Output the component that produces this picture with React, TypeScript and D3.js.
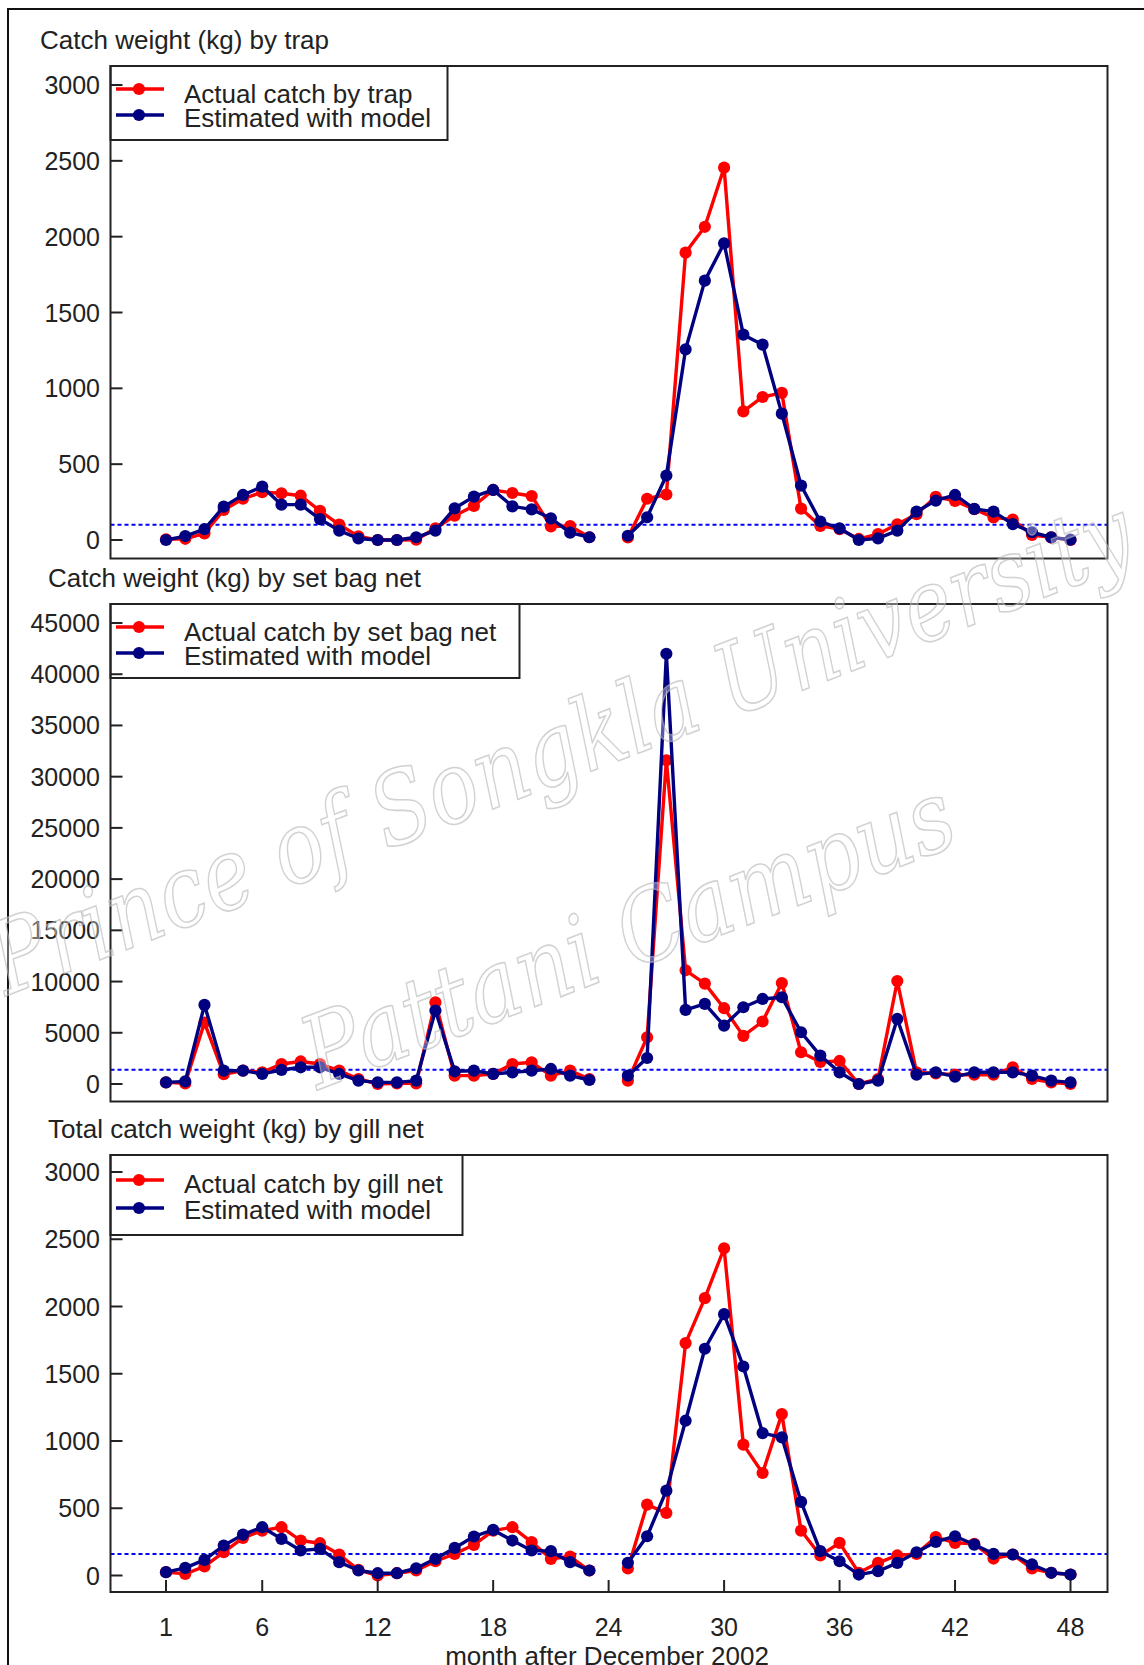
import React from "react";
import * as d3 from "d3";

// Month index 1..48 (months after December 2002); month 24 has no record.
const monthTicks = [1, 6, 12, 18, 24, 30, 36, 42, 48];

const trapActual: (number | null)[] = [
  5, 8, 44, 198, 272, 315, 308, 292, 192, 102, 24, 0, 0, 2, 77, 160, 225, 330, 310, 290, 90, 92, 18, null,
  17, 272, 300, 1895, 2065, 2455, 848, 943, 970, 207, 93, 72, 7, 39, 104, 170, 285, 258, 203, 149, 134, 33, 17, 0,
];
const trapModel: (number | null)[] = [
  0, 26, 72, 220, 297, 352, 233, 233, 138, 62, 10, 0, 0, 18, 62, 209, 286, 330, 222, 202, 143, 48, 18, null,
  28, 150, 425, 1257, 1710, 1956, 1354, 1288, 833, 359, 122, 77, 0, 11, 62, 187, 260, 297, 205, 187, 105, 51, 17, 2,
];

const bagActual: (number | null)[] = [
  160, 65, 6000, 950, 1300, 1140, 1950, 2200, 1950, 1300, 490, 0, 65, 65, 7980, 815, 815, 980, 1950, 2120, 815, 1300, 490, null,
  330, 4560, 31600, 11100, 9800, 7400, 4700, 6100, 9850, 3100, 2150, 2250, 0, 490, 10050, 1140, 1040, 910, 910, 910, 1630, 490, 160, 0,
];
const bagModel: (number | null)[] = [
  160, 260, 7720, 1300, 1300, 980, 1370, 1630, 1630, 980, 330, 160, 160, 330, 7170, 1240, 1300, 980, 1140, 1300, 1470, 815, 390, null,
  815, 2540, 42000, 7230, 7820, 5700, 7490, 8300, 8470, 5050, 2770, 1140, 0, 330, 6350, 910, 1140, 720, 1140, 1140, 1140, 815, 330, 160,
];

const gillActual: (number | null)[] = [
  25, 12, 67, 173, 280, 334, 359, 260, 240, 156, 42, 0, 17, 37, 106, 161, 228, 334, 359, 248, 124, 141, 37, null,
  52, 527, 465, 1728, 2062, 2433, 973, 762, 1200, 334, 149, 243, 20, 94, 149, 161, 285, 243, 235, 126, 156, 52, 20, 7,
];
const gillModel: (number | null)[] = [
  25, 57, 116, 223, 304, 359, 272, 186, 198, 99, 37, 17, 17, 54, 124, 205, 290, 339, 260, 186, 181, 99, 37, null,
  94, 292, 631, 1151, 1686, 1943, 1554, 1059, 1027, 547, 181, 106, 7, 32, 94, 173, 250, 292, 230, 161, 156, 82, 20, 7,
];

// Dotted reference levels
const trapRef = 100;
const bagRef = 1400;
const gillRef = 160;

const modelLabel = "Estimated with model";

type Panel = {
  title: string;
  titleX: number;
  titleY: number;
  top: number;
  bottom: number;
  yMax: number;
  yStep: number;
  yRange: [number, number];
  actual: (number | null)[];
  model: (number | null)[];
  ref: number;
  actualLabel: string;
  legendW: number;
  legendH: number;
  rowY: [number, number];
  textY: [number, number];
  xAxis: boolean;
};

const panels: Panel[] = [
  {
    title: "Catch weight (kg) by trap",
    titleX: 40, titleY: 49, top: 66, bottom: 558.5,
    yMax: 3000, yStep: 500, yRange: [540, 85],
    actual: trapActual, model: trapModel, ref: trapRef,
    actualLabel: "Actual catch by trap",
    legendW: 337, legendH: 74, rowY: [23, 49], textY: [37, 61], xAxis: false,
  },
  {
    title: "Catch weight (kg) by set bag net",
    titleX: 48, titleY: 587, top: 604, bottom: 1101.5,
    yMax: 45000, yStep: 5000, yRange: [1084, 623],
    actual: bagActual, model: bagModel, ref: bagRef,
    actualLabel: "Actual catch by set bag net",
    legendW: 409, legendH: 74, rowY: [23, 49], textY: [37, 61], xAxis: false,
  },
  {
    title: "Total catch weight (kg) by gill net",
    titleX: 48, titleY: 1138, top: 1155, bottom: 1592,
    yMax: 3000, yStep: 500, yRange: [1575.5, 1172],
    actual: gillActual, model: gillModel, ref: gillRef,
    actualLabel: "Actual catch by gill net",
    legendW: 352, legendH: 80, rowY: [25, 53], textY: [38, 64], xAxis: true,
  },
];

const W = 1144;
const H = 1665;
const LEFT = 110.5;
const RIGHT = 1107.5;
const RED = "#ff0000";
const NAVY = "#000080";
const FONT = "'Liberation Sans', Arial, sans-serif";
const DOT_R = 6.1;
const LINE_W = 3.4;

const x = d3.scaleLinear().domain([1, 48]).range([166, 1070.5]);

function Series({ values, y, color }: { values: (number | null)[]; y: d3.ScaleLinear<number, number>; color: string }) {
  const line = d3
    .line<number | null>()
    .defined((d) => d != null)
    .x((_, i) => x(i + 1))
    .y((d) => y(d as number));
  return (
    <g>
      <path d={line(values) || ""} fill="none" stroke={color} strokeWidth={LINE_W} strokeLinejoin="round" />
      {values.map((v, i) =>
        v == null ? null : <circle key={i} cx={x(i + 1)} cy={y(v)} r={DOT_R} fill={color} />
      )}
    </g>
  );
}

function ChartPanel({ p }: { p: Panel }) {
  const y = d3.scaleLinear().domain([0, p.yMax]).range(p.yRange);
  const ticks = d3.range(0, p.yMax + 1, p.yStep);
  return (
    <g>
      <text x={p.titleX} y={p.titleY} fontSize={26} fill="#222" fontFamily={FONT}>
        {p.title}
      </text>

      {/* reference level */}
      <line x1={LEFT} x2={RIGHT} y1={y(p.ref)} y2={y(p.ref)} stroke="#0000ff" strokeWidth={2} strokeDasharray="4 3" />

      <Series values={p.actual} y={y} color={RED} />
      <Series values={p.model} y={y} color={NAVY} />

      {/* y axis ticks and labels */}
      {ticks.map((t) => (
        <g key={t}>
          <line x1={LEFT} x2={LEFT + 12} y1={y(t)} y2={y(t)} stroke="#222" strokeWidth={2} />
          <text x={100} y={y(t)} dy="0.36em" textAnchor="end" fontSize={25} fill="#222" fontFamily={FONT}>
            {t}
          </text>
        </g>
      ))}

      {/* legend */}
      <g>
        <rect x={LEFT} y={p.top} width={p.legendW} height={p.legendH} fill="none" stroke="#222" strokeWidth={2} />
        {[
          { c: RED, label: p.actualLabel },
          { c: NAVY, label: modelLabel },
        ].map((row, k) => (
          <g key={k}>
            <line x1={116} x2={164} y1={p.top + p.rowY[k]} y2={p.top + p.rowY[k]} stroke={row.c} strokeWidth={LINE_W} />
            <circle cx={139} cy={p.top + p.rowY[k]} r={DOT_R} fill={row.c} />
            <text x={184} y={p.top + p.textY[k]} fontSize={26} fill="#222" fontFamily={FONT}>
              {row.label}
            </text>
          </g>
        ))}
      </g>

      {/* frame */}
      <rect x={LEFT} y={p.top} width={RIGHT - LEFT} height={p.bottom - p.top} fill="none" stroke="#222" strokeWidth={2} />

      {p.xAxis && (
        <g>
          {monthTicks.map((m) => (
            <g key={m}>
              <line x1={x(m)} x2={x(m)} y1={p.bottom} y2={p.bottom - 12} stroke="#222" strokeWidth={2} />
              <text x={x(m)} y={1636} textAnchor="middle" fontSize={25} fill="#222" fontFamily={FONT}>
                {m}
              </text>
            </g>
          ))}
          <text x={607} y={1665} textAnchor="middle" fontSize={26} fill="#222" fontFamily={FONT}>
            month after December 2002
          </text>
        </g>
      )}
    </g>
  );
}

export default function App() {
  return (
    <div style={{ position: "absolute", left: 0, top: 0, width: W, height: H, overflow: "hidden" }}>
      <svg width={W} height={H} viewBox={`0 0 ${W} ${H}`} style={{ display: "block", background: "#fff" }}>
        <rect x={0} y={0} width={W} height={H} fill="#fff" />
        {/* outer frame */}
        <line x1={8} x2={W} y1={9} y2={9} stroke="#111" strokeWidth={2} />
        <line x1={8} x2={8} y1={8} y2={H} stroke="#111" strokeWidth={2} />

        {panels.map((p, i) => (
          <ChartPanel key={i} p={p} />
        ))}

        {/* watermark */}
        <g
          fontFamily="'DejaVu Serif', serif"
          fontStyle="italic"
          fill="#ffffff"
          fillOpacity={0.35}
          stroke="#b4b4b4"
          strokeOpacity={0.6}
          strokeWidth={1.6}
        >
          <text transform="translate(6,996) rotate(-21)" fontSize={100} textLength={1215} lengthAdjust="spacingAndGlyphs">
            Prince of Songkla University
          </text>
          <text transform="translate(318,1090) rotate(-21)" fontSize={100} textLength={690} lengthAdjust="spacingAndGlyphs">
            Pattani Campus
          </text>
        </g>
      </svg>
    </div>
  );
}
